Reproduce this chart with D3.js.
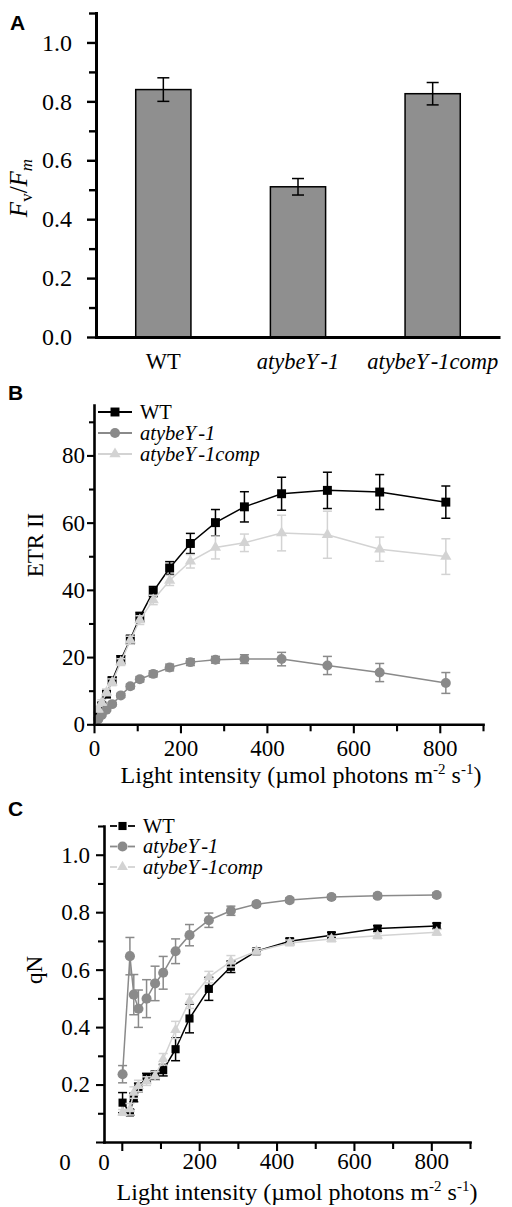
<!DOCTYPE html>
<html>
<head>
<meta charset="utf-8">
<script src="https://cdn.jsdelivr.net/npm/d3@7"></script>
<style>
  body { margin: 0; background: #fff; }
  svg { display: block; font-family: "Liberation Serif", "Times New Roman", serif; }
  text { font-family: "Liberation Serif", "Times New Roman", serif; fill: #000; }
  .letter { font-family: "Liberation Sans", Arial, sans-serif; font-weight: bold; font-size: 21px; }
</style>
</head>
<body>
<svg id="chart" width="512" height="1207"></svg>
<script>
// ---- data ----
const genotypes = ["WT", "atybeY-1", "atybeY-1comp"];
const fvfmMean = [0.84, 0.51, 0.826];
const fvfmErr = [0.04, 0.028, 0.038];

// panel B, ETR II vs light
const lightB = [10, 18, 29, 42, 62, 84, 106, 137, 175, 223, 281, 348, 434, 540, 661, 814];
const etrWT = [2.8, 5.5, 9, 13, 19.2, 25.2, 31.9, 39.5, 46.5, 53.8, 60, 64.7, 68.6, 69.6, 69.1, 66.1];
const etrWTErr = [0.8, 0.8, 1, 1, 1.2, 1.3, 1.4, 1.5, 1.9, 3, 3.9, 4.5, 4.9, 5.4, 5.2, 4.8];
const etrMut = [1.5, 2.8, 4.3, 6, 8.6, 11.3, 13.4, 15, 16.9, 18.5, 19.2, 19.4, 19.4, 17.5, 15.4, 12.3];
const etrMutErr = [0.3, 0.3, 0.4, 0.5, 0.6, 0.7, 0.8, 0.9, 1, 1, 1, 1.3, 2, 2.7, 2.7, 3.1];
const etrComp = [4.5, 6.5, 9.5, 12.5, 18.5, 25, 31, 37, 42.8, 48.5, 52.6, 54, 56.9, 56.4, 52.1, 49.9];
const etrCompErr = [0.8, 0.8, 1, 1, 1, 1.2, 1.3, 1.4, 1.5, 2, 3.4, 2.6, 5.3, 7, 3.6, 5.3];

// panel C, qN vs light
const lightC = [2, 21, 31, 43, 64, 86, 107, 139, 175, 225, 282, 348, 434, 542, 661, 814];
const qnWT = [0.137, 0.103, 0.155, 0.19, 0.224, 0.232, 0.25, 0.323, 0.43, 0.533, 0.61, 0.664, 0.699, 0.72, 0.743, 0.752];
const qnWTErr = [0.035, 0.01, 0.015, 0.015, 0.015, 0.015, 0.02, 0.04, 0.05, 0.04, 0.02, 0.01, 0.01, 0.01, 0.01, 0.01];
const qnMut = [0.236, 0.647, 0.513, 0.464, 0.499, 0.552, 0.589, 0.664, 0.72, 0.772, 0.805, 0.828, 0.842, 0.853, 0.857, 0.86];
const qnMutErr = [0.03, 0.065, 0.07, 0.065, 0.066, 0.06, 0.057, 0.043, 0.037, 0.025, 0.016, 0.008, 0.008, 0.008, 0.008, 0.008];
const qnComp = [0.103, 0.114, 0.172, 0.195, 0.212, 0.23, 0.288, 0.39, 0.49, 0.574, 0.629, 0.664, 0.693, 0.707, 0.718, 0.73];
const qnCompErr = [0.01, 0.02, 0.02, 0.02, 0.015, 0.015, 0.02, 0.03, 0.025, 0.02, 0.02, 0.01, 0.01, 0.01, 0.01, 0.01];

// ---- style ----
const colors = ["#000000", "#8a8a8a", "#d3d3d3"];
const symbols = [d3.symbolSquare, d3.symbolCircle, d3.symbolTriangle];
const serif = "'Liberation Serif', 'Times New Roman', serif";

const svg = d3.select("#chart");

// genotype names: roman WT, italic mutants, small gap before "-1"
function genoText(sel, name) {
    if (name === "WT") {
        sel.text(name);
        return;
    }
    sel.text(null).style("font-style", "italic");
    sel.append("tspan").text("atybeY");
    sel.append("tspan").attr("dx", 4).text(name.slice(6));
}

function letter(txt, x, y) {
    svg.append("text").attr("class", "letter").attr("x", x).attr("y", y).text(txt);
}

// d3 puts sans-serif on axis groups; drop it so the serif face is used
function styleAxis(g, width, fontSize) {
    g.attr("font-family", null).attr("font-size", null);
    g.select(".domain").attr("stroke-width", width).attr("stroke-linecap", "square");
    g.selectAll(".tick line").attr("stroke-width", width * 0.8);
    g.selectAll(".tick text")
        .style("font-family", serif)
        .style("font-size", fontSize + "px")
        .attr("fill", "#000");
}

function yAxis(scale, x, majors, minors, fmt, opts) {
    const g = svg.append("g").attr("transform", `translate(${x},0)`);
    g.append("g").call(d3.axisLeft(scale).tickValues(minors).tickSize(opts.minor).tickSizeOuter(0).tickFormat(""))
        .call(s => s.select(".domain").remove())
        .call(s => s.selectAll("line").attr("stroke-width", opts.width * 0.8));
    g.append("g").call(d3.axisLeft(scale).tickValues(majors).tickSize(opts.major).tickSizeOuter(0)
            .tickPadding(opts.pad).tickFormat(fmt))
        .call(s => styleAxis(s, opts.width, opts.font));
    return g;
}

function xAxis(scale, y, majors, minors, fmt, opts) {
    const g = svg.append("g").attr("transform", `translate(0,${y})`);
    g.append("g").call(d3.axisBottom(scale).tickValues(minors).tickSize(opts.minor).tickSizeOuter(0).tickFormat(""))
        .call(s => s.select(".domain").remove())
        .call(s => s.selectAll("line").attr("stroke-width", opts.width * 0.8));
    g.append("g").call(d3.axisBottom(scale).tickValues(majors).tickSize(opts.major).tickSizeOuter(0)
            .tickPadding(opts.pad).tickFormat(fmt))
        .call(s => styleAxis(s, opts.width, opts.font));
    return g;
}

function lightTitle(cx, y) {
    const t = svg.append("text").attr("x", cx).attr("y", y)
        .attr("text-anchor", "middle").style("font-size", "24px");
    t.append("tspan").text("Light intensity (\u00b5mol photons m");
    t.append("tspan").attr("dy", -9).style("font-size", "15px").text("-2");
    t.append("tspan").attr("dy", 9).text(" s");
    t.append("tspan").attr("dy", -9).style("font-size", "15px").text("-1");
    t.append("tspan").attr("dy", 9).text(")");
}

function series(x, y, xs, vals, errs, i, symSize, cap) {
    const pts = xs.map((d, k) => ({ x: d, v: vals[k], e: errs[k] }));
    const g = svg.append("g");
    const eb = g.selectAll(null).data(pts).join("g")
        .attr("stroke", colors[i]).attr("stroke-width", 1.5);
    eb.append("line")
        .attr("x1", d => x(d.x)).attr("x2", d => x(d.x))
        .attr("y1", d => y(d.v - d.e)).attr("y2", d => y(d.v + d.e));
    [-1, 1].forEach(s => {
        eb.append("line")
            .attr("x1", d => x(d.x) - cap).attr("x2", d => x(d.x) + cap)
            .attr("y1", d => y(d.v + s * d.e)).attr("y2", d => y(d.v + s * d.e));
    });
    g.append("path").datum(pts)
        .attr("fill", "none").attr("stroke", colors[i]).attr("stroke-width", 1.5)
        .attr("d", d3.line().x(d => x(d.x)).y(d => y(d.v)));
    g.selectAll(null).data(pts).join("path")
        .attr("transform", d => `translate(${x(d.x)},${y(d.v)})`)
        .attr("d", d3.symbol(symbols[i], symSize[i]))
        .attr("fill", colors[i]);
}

function legend(x0, y0, rowH, split, symSize) {
    genotypes.forEach((name, i) => {
        const g = svg.append("g").attr("transform", `translate(${x0},${y0 + i * rowH})`);
        if (split) {
            g.append("line").attr("x1", 0).attr("x2", 7).attr("stroke", colors[i]).attr("stroke-width", 1.8);
            g.append("line").attr("x1", 18).attr("x2", 25).attr("stroke", colors[i]).attr("stroke-width", 1.8);
        } else {
            g.append("line").attr("x1", 0).attr("x2", 34).attr("stroke", colors[i]).attr("stroke-width", 1.8);
        }
        g.append("path").attr("transform", `translate(${split ? 12.5 : 17},0)`)
            .attr("d", d3.symbol(symbols[i], symSize[i])).attr("fill", colors[i]);
        g.append("text").attr("x", split ? 33 : 42).attr("dy", "0.33em")
            .style("font-size", "20.5px").call(s => genoText(s, name));
    });
}

// ================= Panel A =================
letter("A", 10, 30);
const xA = d3.scaleBand().domain(genotypes).range([96, 500]).paddingInner(0.59).paddingOuter(0.295);
const yA = d3.scaleLinear().domain([0, 1.1]).range([337, 13]);

svg.append("g").selectAll("rect").data(genotypes).join("rect")
    .attr("x", d => xA(d)).attr("width", xA.bandwidth())
    .attr("y", (d, i) => yA(fvfmMean[i])).attr("height", (d, i) => yA(0) - yA(fvfmMean[i]))
    .attr("fill", "#8f8f8f").attr("stroke", "#000").attr("stroke-width", 1.5);

const errA = svg.append("g").attr("stroke", "#000").attr("stroke-width", 1.5)
    .selectAll("g").data(genotypes).join("g");
errA.append("line")
    .attr("x1", d => xA(d) + xA.bandwidth() / 2).attr("x2", d => xA(d) + xA.bandwidth() / 2)
    .attr("y1", (d, i) => yA(fvfmMean[i] - fvfmErr[i])).attr("y2", (d, i) => yA(fvfmMean[i] + fvfmErr[i]));
[-1, 1].forEach(s => {
    errA.append("line")
        .attr("x1", d => xA(d) + xA.bandwidth() / 2 - 6).attr("x2", d => xA(d) + xA.bandwidth() / 2 + 6)
        .attr("y1", (d, i) => yA(fvfmMean[i] + s * fvfmErr[i])).attr("y2", (d, i) => yA(fvfmMean[i] + s * fvfmErr[i]));
});

yAxis(yA, 96, [0, 0.2, 0.4, 0.6, 0.8, 1.0], [0.1, 0.3, 0.5, 0.7, 0.9, 1.1], d3.format(".1f"),
    { major: 9, minor: 7, pad: 15, width: 3, font: 24 });
const gxA = svg.append("g").attr("transform", `translate(0,${yA(0)})`)
    .call(d3.axisBottom(xA).tickSize(0).tickSizeOuter(0).tickPadding(16))
    .attr("font-family", null).attr("font-size", null);
gxA.select(".domain").attr("stroke-width", 3);
gxA.selectAll(".tick text").style("font-size", "22.5px").attr("fill", "#000")
    .style("font-family", serif)
    .each(function (d) { genoText(d3.select(this), d); });

const tA = svg.append("text").attr("transform", `translate(27,188) rotate(-90)`)
    .attr("text-anchor", "middle").style("font-size", "25px").style("font-style", "italic");
tA.append("tspan").text("F");
tA.append("tspan").attr("dy", 5).style("font-size", "17px").style("font-style", "normal").text("v");
tA.append("tspan").attr("dy", -5).style("font-style", "normal").text("/");
tA.append("tspan").text("F");
tA.append("tspan").attr("dy", 5).style("font-size", "17px").text("m");

// ================= Panel B =================
letter("B", 8, 400);
const xB = d3.scaleLinear().domain([0, 900]).range([94, 483]);
const yB = d3.scaleLinear().domain([0, 95]).range([724.3, 405]);
const symB = [80, 78, 55];

series(xB, yB, lightB, etrWT, etrWTErr, 0, symB, 4.5);
series(xB, yB, lightB, etrMut, etrMutErr, 1, symB, 4.5);
series(xB, yB, lightB, etrComp, etrCompErr, 2, symB, 4.5);

yAxis(yB, 94, [0, 20, 40, 60, 80], [10, 30, 50, 70, 90], d3.format("d"),
    { major: 7, minor: 5, pad: 2, width: 2.6, font: 23 });
xAxis(xB, yB(0), [0, 200, 400, 600, 800], [100, 300, 500, 700, 900], d3.format("d"),
    { major: 9, minor: 7, pad: 6, width: 2.6, font: 23 });
svg.append("text").attr("transform", "translate(43,545) rotate(-90)")
    .attr("text-anchor", "middle").style("font-size", "23px").text("ETR II");
lightTitle(301, 783);
legend(98, 412, 21, false, symB);

// ================= Panel C =================
letter("C", 8, 816);
const xC = d3.scaleLinear().domain([-46, 900]).range([104, 470]);
const yC = d3.scaleLinear().domain([0, 1.1]).range([1142, 826]);
const symC = [66, 80, 50];

series(xC, yC, lightC, qnWT, qnWTErr, 0, symC, 4.5);
series(xC, yC, lightC, qnMut, qnMutErr, 1, symC, 4.5);
series(xC, yC, lightC, qnComp, qnCompErr, 2, symC, 4.5);

yAxis(yC, 104, [0, 0.2, 0.4, 0.6, 0.8, 1.0], [0.1, 0.3, 0.5, 0.7, 0.9, 1.1],
    d => d === 0 ? "" : d3.format(".1f")(d),
    { major: 8, minor: 6, pad: 6, width: 2.6, font: 23 });
xAxis(xC, yC(0), [0, 200, 400, 600, 800], [100, 300, 500, 700, 900],
    d => d === 0 ? "" : d3.format("d")(d),
    { major: 9, minor: 7, pad: 2, width: 2.6, font: 23 });
// the stray zero labels of the original figure
svg.append("text").attr("x", xC.range()[0]).attr("y", 1170).attr("text-anchor", "middle")
    .style("font-size", "23px").text("0");
svg.append("text").attr("x", xC.range()[0] - 39).attr("y", 1170).attr("text-anchor", "middle")
    .style("font-size", "23px").text("0");
svg.append("text").attr("transform", "translate(42,970) rotate(-90)")
    .attr("text-anchor", "middle").style("font-size", "23px").text("qN");
lightTitle(297, 1200);
legend(110, 826, 20.5, true, symC);
</script>
</body>
</html>
